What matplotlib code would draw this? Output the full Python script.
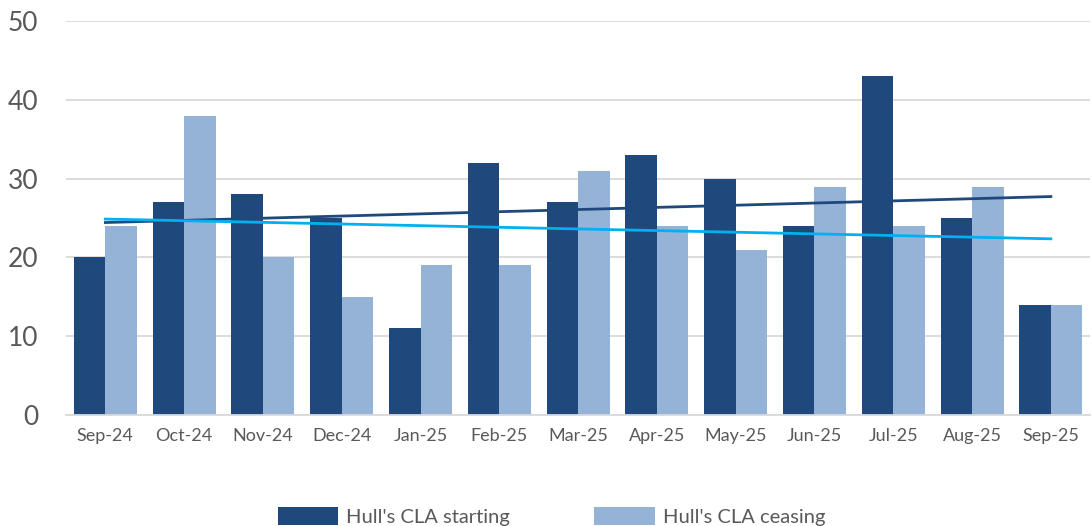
import numpy as np
import matplotlib
matplotlib.use('Agg')
import matplotlib.pyplot as plt

months = ['Sep-24', 'Oct-24', 'Nov-24', 'Dec-24', 'Jan-25', 'Feb-25', 'Mar-25',
          'Apr-25', 'May-25', 'Jun-25', 'Jul-25', 'Aug-25', 'Sep-25']
starting = [20, 27, 28, 25, 11, 32, 27, 33, 30, 24, 43, 25, 14]
ceasing = [24, 38, 20, 15, 19, 19, 31, 24, 21, 29, 24, 29, 14]

dark = '#1F497D'
light = '#95B3D7'
trend_light = '#00B0F0'

plt.rcParams['font.family'] = ['Lato', 'DejaVu Sans']

fig = plt.figure(figsize=(10.92, 5.26), dpi=100)
ax = fig.add_axes([0.0604, 0.211, 0.938, 0.749])

x = np.arange(len(months))
w = 0.4
ax.bar(x - w/2, starting, w, color=dark, label="Hull's CLA starting", zorder=2)
ax.bar(x + w/2, ceasing, w, color=light, label="Hull's CLA ceasing", zorder=2)

# linear trend lines
for vals, col in [(starting, dark), (ceasing, trend_light)]:
    k, b = np.polyfit(x, vals, 1)
    ax.plot(x, k * x + b, color=col, lw=2, zorder=3)

ax.set_xlim(-0.5, len(months) - 0.5)
ax.set_ylim(0, 50)
ax.set_yticks(range(0, 51, 10))
ax.set_xticks(x)
ax.set_xticklabels(months, fontsize=13, color='#595959')
ax.tick_params(axis='y', labelsize=19, colors='#595959', length=0, pad=20)
ax.tick_params(axis='x', length=0, pad=9)
ax.grid(axis='y', color='#D9D9D9', lw=1.3, zorder=0)
for s in ['top', 'right', 'left']:
    ax.spines[s].set_visible(False)
ax.spines['bottom'].set_color('#D9D9D9')
ax.spines['bottom'].set_linewidth(1.3)

fig.legend(loc='lower center', bbox_to_anchor=(0.505, -0.035), ncol=2, frameon=False,
           fontsize=14.5, labelcolor='#595959', handlelength=3.0, handleheight=1.0,
           columnspacing=4.2, handletextpad=0.4)

fig.savefig('out.png', dpi=100)
